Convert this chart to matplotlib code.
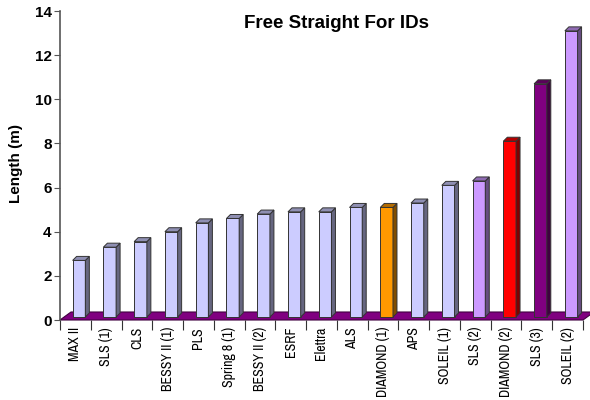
import numpy as np
import matplotlib
matplotlib.use("Agg")
import matplotlib.pyplot as plt
from matplotlib.patches import Polygon
from matplotlib.colors import to_rgb
from matplotlib import font_manager as fm

labels = ["MAX II", "SLS (1)", "CLS", "BESSY II (1)", "PLS", "Spring 8 (1)",
          "BESSY II (2)", "ESRF", "Elettra", "ALS", "DIAMOND (1)", "APS",
          "SOLEIL (1)", "SLS (2)", "DIAMOND (2)", "SLS (3)", "SOLEIL (2)"]
lengths = [2.7, 3.3, 3.55, 4.0, 4.4, 4.6, 4.8, 4.9, 4.9, 5.1, 5.1, 5.3,
           6.1, 6.3, 8.1, 10.7, 13.1]
colors = ["#CCCCFF"] * 10 + ["#FF9900", "#CCCCFF", "#CCCCFF",
                              "#CC99FF", "#FF0000", "#800080", "#CC99FF"]

def shade(c, f):
    r, g, b = to_rgb(c)
    return (r * f, g * f, b * f)

# narrow font for the category labels if one is installed
names = sorted({f.name for f in fm.fontManager.ttflist})
narrow = [n for n in names if "Narrow" in n or "Condensed" in n]
if narrow:
    xfont = dict(family=narrow[0], fontsize=10)
else:
    xfont = dict(family="Liberation Sans", fontsize=8)

fig = plt.figure(figsize=(5.9, 4.0), dpi=100)
ax = fig.add_axes([60/590, 80/400, 523/590, 309/400])
ax.set_xlim(0, 17)
ax.set_ylim(0, 14)

# pixel -> data conversions
px_x = 17 / 523.0
px_y = 14 / 309.0

# floor
fdx, fdy = 11 * px_x, 8 * px_y
floor = Polygon([(0, 0), (17, 0), (17 + fdx, fdy), (fdx, fdy)], closed=True,
                facecolor="#800080", edgecolor="#400040", lw=0.8, clip_on=False, zorder=1)
ax.add_patch(floor)

# 3D-ish bars
w = 12.7 * px_x
off_x = 3.6 * px_x
base = 3 * px_y
ddx, ddy = 4 * px_x, 4 * px_y
for i, (h, c) in enumerate(zip(lengths, colors)):
    x0 = i + 0.5 + off_x - w / 2
    x1 = x0 + w
    front = Polygon([(x0, base), (x1, base), (x1, h), (x0, h)], closed=True,
                    facecolor=c, edgecolor="#333333", lw=0.7, zorder=3, clip_on=False)
    side = Polygon([(x1, base), (x1 + ddx, base + ddy), (x1 + ddx, h + ddy), (x1, h)],
                   closed=True, facecolor=shade(c, 0.5), edgecolor="#333333", lw=0.7,
                   zorder=3, clip_on=False)
    top = Polygon([(x0, h), (x1, h), (x1 + ddx, h + ddy), (x0 + ddx, h + ddy)],
                  closed=True, facecolor=shade(c, 0.7), edgecolor="#333333", lw=0.7,
                  zorder=3, clip_on=False)
    ax.add_patch(front)
    ax.add_patch(side)
    ax.add_patch(top)

for s in ["top", "right", "bottom"]:
    ax.spines[s].set_visible(False)
ax.spines["left"].set_color("#555555")
ax.spines["left"].set_linewidth(1.2)

ax.set_yticks(np.arange(0, 15, 2))
ax.tick_params(axis="y", direction="out", length=4, color="#555555", labelsize=11, pad=2)
for t in ax.get_yticklabels():
    t.set_fontweight("bold")
    t.set_family("Liberation Sans")

ax.set_xticks(np.arange(0, 18))
ax.set_xticklabels([])
ax.set_xticks(np.arange(17) + 0.5, minor=True)
ax.set_xticklabels(labels, minor=True, rotation=90, **xfont)
ax.tick_params(axis="x", which="major", direction="out", length=7, color="#333333")
ax.tick_params(axis="x", which="minor", length=0, pad=5)

fig.text(16/590, 1 - 164/400, "Length (m)", rotation=90, ha="center", va="center",
         fontsize=11, fontweight="bold", family="Liberation Sans")
fig.text(337/590, 1 - 24/400, "Free Straight For IDs", ha="center", va="center",
         fontsize=13.5, fontweight="bold", family="Liberation Sans")

fig.savefig("out.png", dpi=100)
